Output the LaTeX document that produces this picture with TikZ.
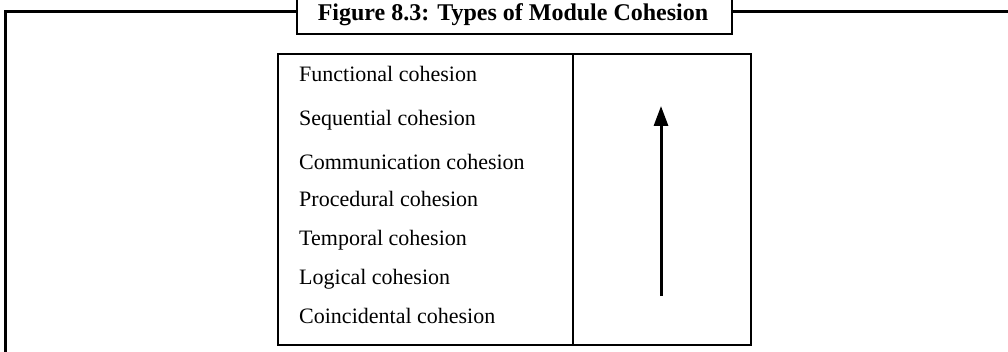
\documentclass[tikz,border=0pt]{standalone}
\usepackage{fontspec}
\setmainfont{Liberation Serif}
\usetikzlibrary{arrows.meta}
\begin{document}
\begin{tikzpicture}[x=1pt,y=-1pt,
  frameline/.style={line width=3pt},
  boxline/.style={draw,line width=1.8pt},
  item/.style={anchor=base west,inner sep=0pt,font=\fontsize{22}{24}\selectfont},
  uparrow/.style={line width=3pt,-{Triangle[length=20pt,width=14pt]}}]
\useasboundingbox (0,0) rectangle (1008,352);
% outer frame
\coordinate (fl) at (5,352);
\coordinate (ftl) at (5,12);
\coordinate (ftr) at (1010,12);
\node (title) [boxline,fill=white,minimum width=435pt,minimum height=45pt,anchor=south west,inner sep=0pt] at (296,35) {};
\draw[frameline] (fl) -- (ftl) -- (title.west |- ftl);
\draw[frameline] (title.east |- ftr) -- (ftr);
\node (ttext) [inner sep=0pt,anchor=base,font=\bfseries\fontsize{24}{26}\selectfont] at (513,21) {Figure 8.3: Types of Module Cohesion};
% table
\node (left) [boxline,line width=1.6pt,minimum width=295pt,minimum height=291pt,anchor=north west,inner sep=0pt] at (277,53) {};
\node (right) [boxline,line width=1.6pt,minimum width=178pt,minimum height=291pt,anchor=north west,inner sep=0pt] at (572,53) {};
\node (t1) [item] at (299,82) {Functional cohesion};
\node (t2) [item] at (299,126) {Sequential cohesion};
\node (t3) [item] at (299,170) {Communication cohesion};
\node (t4) [item] at (299,207) {Procedural cohesion};
\node (t5) [item] at (299,246) {Temporal cohesion};
\node (t6) [item] at (299,284) {Logical cohesion};
\node (t7) [item] at (299,323) {Coincidental cohesion};
\coordinate (abot) at (661,296);
\coordinate (atop) at (661,106);
\draw[uparrow] (abot) -- (atop);
\end{tikzpicture}
\end{document}
